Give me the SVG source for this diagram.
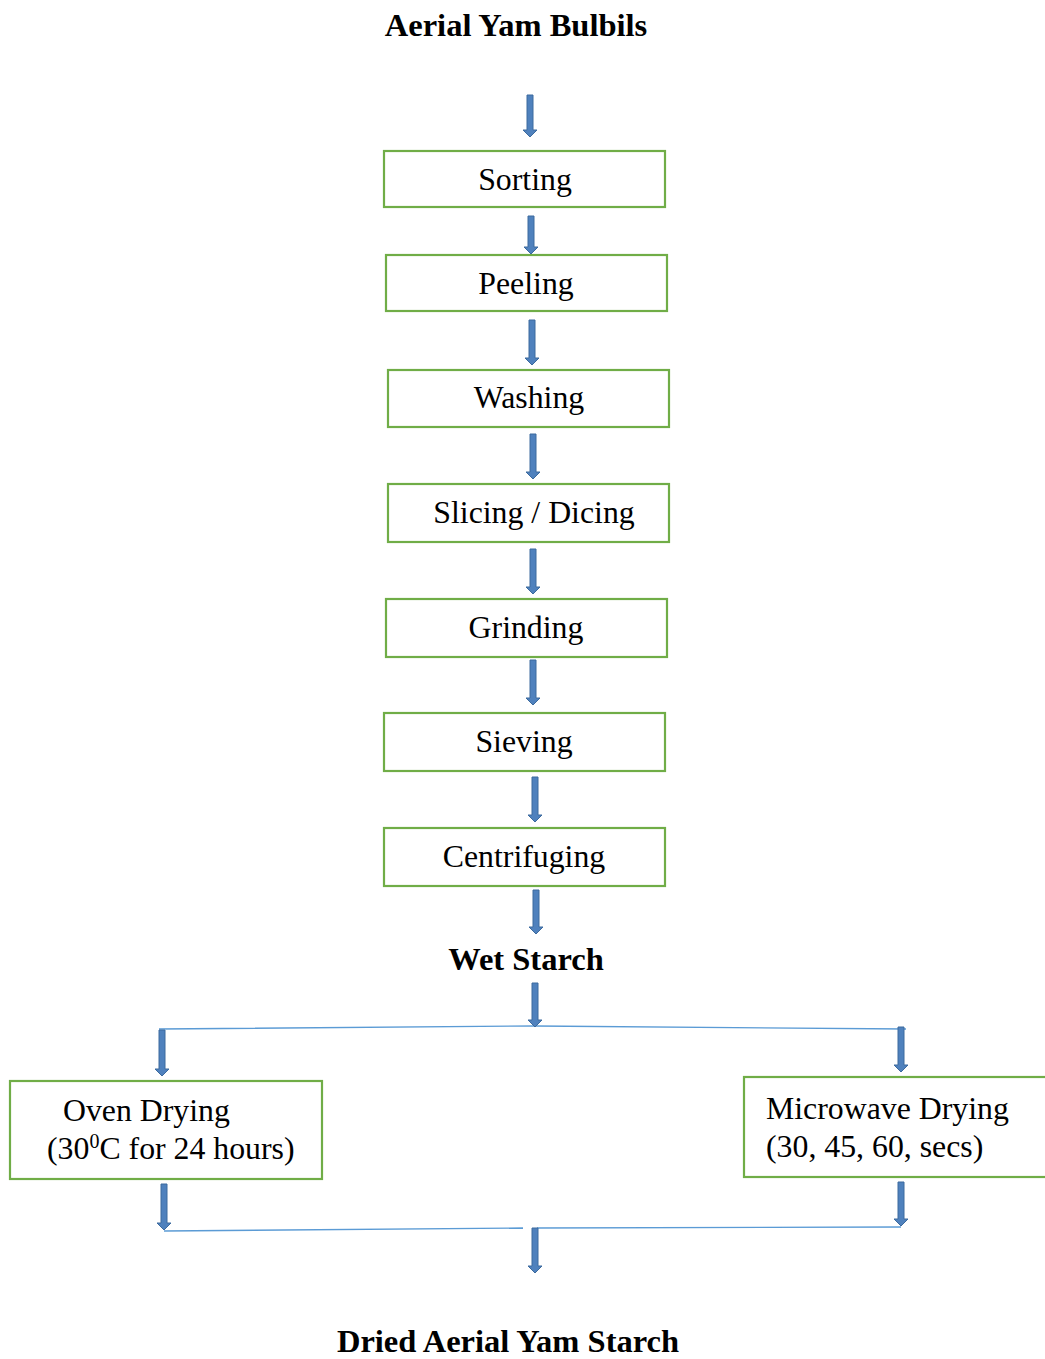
<svg xmlns="http://www.w3.org/2000/svg" width="1045" height="1359" viewBox="0 0 1045 1359">
<style>
.box{fill:#fff;stroke:#70ad47;stroke-width:2.2}
.t{font-family:"Liberation Serif","Times New Roman",serif;font-size:31.8px;fill:#000}
.b{font-family:"Liberation Serif","Times New Roman",serif;font-size:32.5px;font-weight:bold;fill:#000}
.ar{fill:#4f81bd;stroke:#3c6a9e;stroke-width:1}
.ln{fill:none;stroke:#5b9bd5;stroke-width:1.3}
</style>
<rect width="1045" height="1359" fill="#fff"/>
<g id="title"><text class="b" x="516" y="36" text-anchor="middle">Aerial Yam Bulbils</text></g>
<g id="sorting"><rect class="box" x="384" y="151" width="281" height="56"/><text class="t" x="525" y="190" text-anchor="middle">Sorting</text></g>
<g id="peeling"><rect class="box" x="386" y="255" width="281" height="56"/><text class="t" x="526" y="294" text-anchor="middle">Peeling</text></g>
<g id="washing"><rect class="box" x="388" y="370" width="281" height="57"/><text class="t" x="529" y="408" text-anchor="middle">Washing</text></g>
<g id="slicing"><rect class="box" x="388" y="484" width="281" height="58"/><text class="t" x="534" y="523" text-anchor="middle">Slicing / Dicing</text></g>
<g id="grinding"><rect class="box" x="386" y="599" width="281" height="58"/><text class="t" x="526" y="638" text-anchor="middle">Grinding</text></g>
<g id="sieving"><rect class="box" x="384" y="713" width="281" height="58"/><text class="t" x="524" y="752" text-anchor="middle">Sieving</text></g>
<g id="centrifuging"><rect class="box" x="384" y="828" width="281" height="58"/><text class="t" x="524" y="867" text-anchor="middle">Centrifuging</text></g>
<g id="wetstarch"><text class="b" x="526" y="970" text-anchor="middle">Wet Starch</text></g>
<g id="oven"><rect class="box" x="10" y="1081" width="312" height="98"/><text class="t" x="63" y="1121">Oven Drying</text><text class="t" x="47" y="1159">(30<tspan font-size="20" dy="-11">0</tspan><tspan dy="11">C for 24 hours)</tspan></text></g>
<g id="microwave"><rect class="box" x="744" y="1077" width="310" height="100"/><text class="t" x="766" y="1119">Microwave Drying</text><text class="t" x="766" y="1157">(30, 45, 60, secs)</text></g>
<g id="dried"><text class="b" x="508" y="1352" text-anchor="middle">Dried Aerial Yam Starch</text></g>
<g id="connectors">
<polyline class="ln" points="159,1029 535,1026 906,1029"/>
<line class="ln" x1="164" y1="1231" x2="523" y2="1228"/>
<line class="ln" x1="537" y1="1228" x2="901" y2="1227"/>
<polygon class="ar" points="527,95 533,95 533,130 537,130 530,137 523,130 527,130"/>
<polygon class="ar" points="528,216 534,216 534,247 538,247 531,254 524,247 528,247"/>
<polygon class="ar" points="529,320 535,320 535,358 539,358 532,365 525,358 529,358"/>
<polygon class="ar" points="530,434 536,434 536,472 540,472 533,479 526,472 530,472"/>
<polygon class="ar" points="530,549 536,549 536,587 540,587 533,594 526,587 530,587"/>
<polygon class="ar" points="530,660 536,660 536,698 540,698 533,705 526,698 530,698"/>
<polygon class="ar" points="532,777 538,777 538,815 542,815 535,822 528,815 532,815"/>
<polygon class="ar" points="533,890 539,890 539,927 543,927 536,934 529,927 533,927"/>
<polygon class="ar" points="532,983 538,983 538,1020 542,1020 535,1027 528,1020 532,1020"/>
<polygon class="ar" points="159,1030 165,1030 165,1069 169,1069 162,1076 155,1069 159,1069"/>
<polygon class="ar" points="898,1027 904,1027 904,1065 908,1065 901,1072 894,1065 898,1065"/>
<polygon class="ar" points="161,1184 167,1184 167,1223 171,1223 164,1230 157,1223 161,1223"/>
<polygon class="ar" points="898,1182 904,1182 904,1219 908,1219 901,1226 894,1219 898,1219"/>
<polygon class="ar" points="532,1228 538,1228 538,1266 542,1266 535,1273 528,1266 532,1266"/>
</g>
</svg>
